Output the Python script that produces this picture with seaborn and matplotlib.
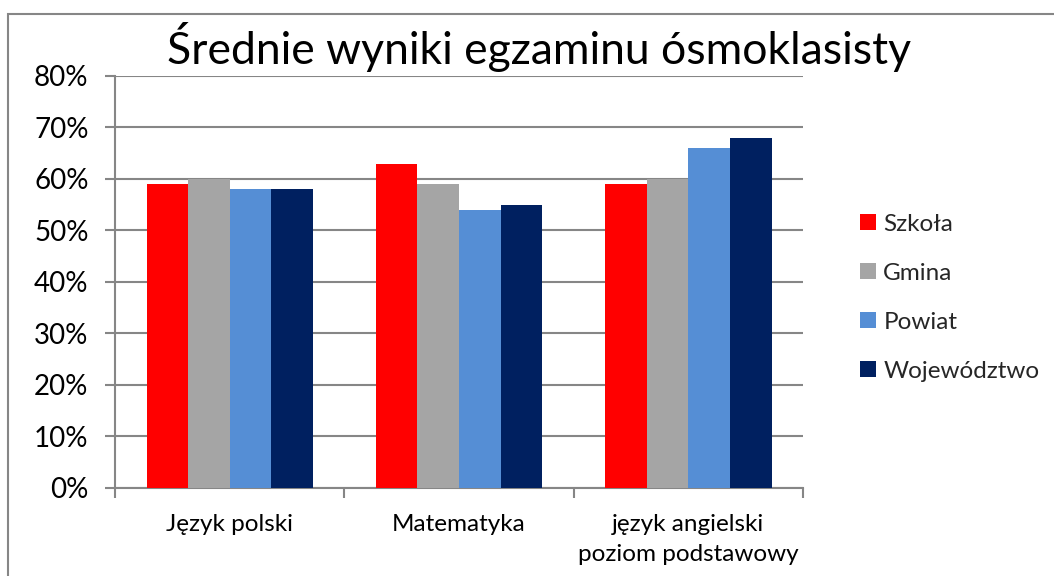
import matplotlib.pyplot as plt
import pandas as pd
import seaborn as sns
from matplotlib.lines import Line2D
from matplotlib.patches import Rectangle
from matplotlib.ticker import FixedLocator, PercentFormatter

subjects = ["Język polski", "Matematyka", "język angielski\npoziom podstawowy"]
levels = ["Szkoła", "Gmina", "Powiat", "Województwo"]
szkola = [59, 63, 59]
gmina = [60, 59, 60]
powiat = [58, 54, 66]
wojewodztwo = [58, 55, 68]
colors = ["#FF0000", "#A5A5A5", "#558ED5", "#002060"]
yticks = [0, 10, 20, 30, 40, 50, 60, 70, 80]

df = pd.DataFrame({
    "Przedmiot": subjects * 4,
    "Poziom": [lv for lv in levels for _ in subjects],
    "Wynik": szkola + gmina + powiat + wojewodztwo,
})

sns.set_theme(style="white")
plt.rcParams["font.family"] = ["Lato", "DejaVu Sans"]
GRAY = "#868686"

fig = plt.figure(figsize=(10.54, 5.76), dpi=100)
ax = fig.add_axes([0.1091, 0.1528, 0.6528, 0.7153])

sns.barplot(data=df, x="Przedmiot", y="Wynik", hue="Poziom", hue_order=levels,
            palette=colors, width=0.725, saturation=1, ax=ax, legend=False,
            linewidth=0, zorder=3)

ax.set_ylim(0, 80)
ax.set_xlim(-0.5, 2.5)
ax.yaxis.set_major_locator(FixedLocator(yticks))
ax.yaxis.set_major_formatter(PercentFormatter(xmax=100, decimals=0))
ax.grid(axis="y", color=GRAY, linewidth=1.5, zorder=0)
ax.set_axisbelow(True)
for side in ["top", "right"]:
    ax.spines[side].set_visible(False)
for side in ["left", "bottom"]:
    ax.spines[side].set_color(GRAY)
    ax.spines[side].set_linewidth(1.5)

ax.set_xlabel("")
ax.set_ylabel("")
ax.tick_params(axis="y", which="major", left=True, length=7, width=1.5, color=GRAY,
               pad=12, labelsize=20, labelcolor="black")
ax.tick_params(axis="x", which="major", bottom=False, length=0, pad=19,
               labelsize=17.5, labelcolor="black")
ax.set_xticks([-0.5, 0.5, 1.5, 2.5], minor=True)
ax.tick_params(axis="x", which="minor", bottom=True, length=7, width=1.5, color=GRAY)
for lbl in ax.get_xticklabels():
    lbl.set_linespacing(1.5)

fig.text(0.511, 0.918, "Średnie wyniki egzaminu ósmoklasisty", ha="center",
         va="center", fontsize=32, color="black")

handles = [Line2D([0], [0], marker="s", linestyle="", markersize=11,
                  markerfacecolor=c, markeredgewidth=0) for c in colors]
fig.legend(handles, levels, loc="center left", bbox_to_anchor=(0.80, 0.483),
           frameon=False, fontsize=17.5, labelspacing=1.15, handletextpad=0.15,
           handlelength=1.0, borderpad=0)

fig.patches.append(Rectangle((8 / 1054, -0.05), 1.1, 1 - 14 / 576 + 0.05,
                             transform=fig.transFigure, fill=False,
                             edgecolor=GRAY, linewidth=1.5))

fig.savefig("out.png", dpi=100, facecolor="white")
